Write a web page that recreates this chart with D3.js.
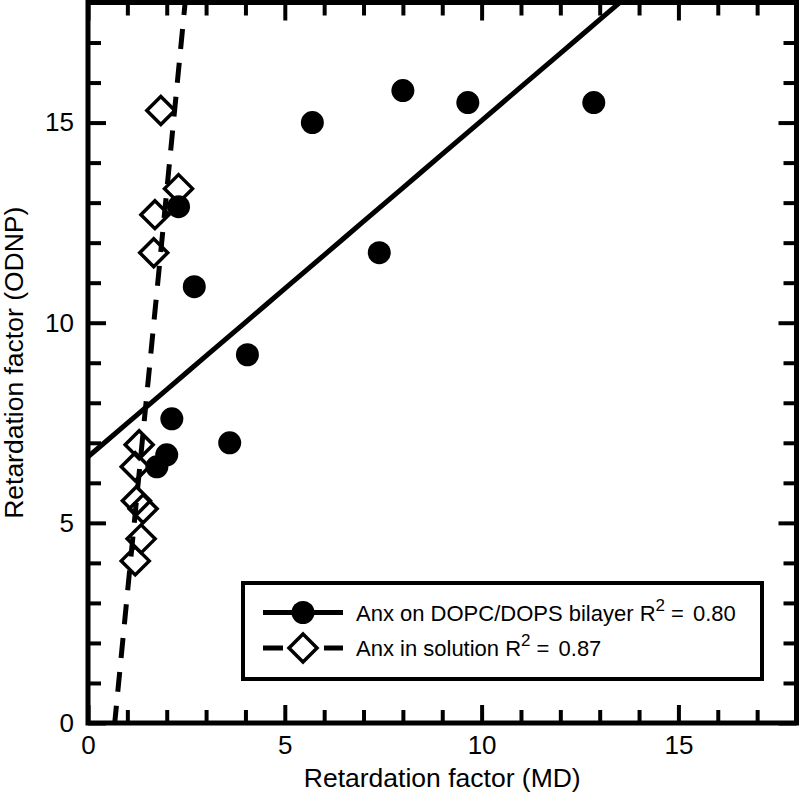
<!DOCTYPE html>
<html>
<head>
<meta charset="utf-8">
<script src="https://cdn.jsdelivr.net/npm/d3@7"></script>
<style>
  html, body { margin: 0; padding: 0; background: #fff; }
  svg { display: block; font-family: "Liberation Sans", Arial, Helvetica, sans-serif; }
</style>
</head>
<body>
<svg id="chart" width="800" height="809"></svg>
<script>
// ---- data ----
const bilayerX = [1.75, 2.0, 2.13, 3.6, 4.05, 2.7, 2.3, 5.7, 7.4, 8.0, 9.65, 12.85];
const bilayerY = [6.4, 6.7, 7.6, 7.0, 9.2, 10.9, 12.9, 15.0, 11.75, 15.8, 15.5, 15.5];
const solutionX = [1.2, 1.35, 1.4, 1.23, 1.2, 1.3, 1.67, 1.7, 2.3, 1.85];
const solutionY = [4.05, 4.6, 5.35, 5.55, 6.4, 6.95, 11.75, 12.7, 13.35, 15.3];
const bilayerFit = [6.65, 0.84];    // intercept, slope
const solutionFit = [-6.83, 10.06]; // intercept, slope
const xTicks = [0, 5, 10, 15];
const yTicks = [0, 5, 10, 15];
const legendLabels = ["Anx on DOPC/DOPS bilayer R", "Anx in solution R"];
const legendR2 = ["0.80", "0.87"];
const xTitle = "Retardation factor (MD)";
const yTitle = "Retardation factor (ODNP)";

// ---- layout ----
const svg = d3.select("#chart");
const L = 88, R = 796.5, T = 2.5, B = 723;
const x = d3.scaleLinear().domain([0, 18]).range([L, R]);
const y = d3.scaleLinear().domain([0, 18]).range([B, T]);

svg.append("defs").append("clipPath").attr("id", "plotclip")
  .append("rect").attr("x", L).attr("y", T).attr("width", R - L).attr("height", B - T);

const plot = svg.append("g").attr("clip-path", "url(#plotclip)");

// fit lines
const fitLine = (fit) => d3.line().x(d => x(d)).y(d => y(fit[0] + fit[1] * d));
const xs = d3.range(0, 18.01, 0.5);
plot.append("path").datum(xs).attr("d", fitLine(solutionFit))
  .attr("fill", "none").attr("stroke", "#000").attr("stroke-width", 5)
  .attr("stroke-dasharray", "20,14");
plot.append("path").datum(xs).attr("d", fitLine(bilayerFit))
  .attr("fill", "none").attr("stroke", "#000").attr("stroke-width", 5);

// diamonds
const diamond = (s) => `M0,${-s}L${s},0L0,${s}L${-s},0Z`;
plot.selectAll(".dia").data(solutionX.map((v, i) => [v, solutionY[i]]))
  .enter().append("path").attr("class", "dia")
  .attr("d", diamond(14))
  .attr("transform", d => `translate(${x(d[0])},${y(d[1])})`)
  .attr("fill", "none").attr("stroke", "#000").attr("stroke-width", 3.5)
  .attr("stroke-linejoin", "miter");

// circles
plot.selectAll(".dot").data(bilayerX.map((v, i) => [v, bilayerY[i]]))
  .enter().append("circle").attr("class", "dot")
  .attr("cx", d => x(d[0])).attr("cy", d => y(d[1])).attr("r", 11.5)
  .attr("fill", "#000");

// axes with inward ticks on all four sides
function styleAxis(g) {
  g.select(".domain").remove();
  g.selectAll(".tick line").attr("stroke", "#000").attr("stroke-width", 4);
  g.selectAll(".tick text").attr("font-size", 26).attr("fill", "#000")
    .attr("font-family", "Liberation Sans, Arial, sans-serif");
}
const minor = d3.range(0, 19, 1);
// bottom minor
svg.append("g").attr("transform", `translate(0,${B})`)
  .call(d3.axisBottom(x).tickValues(minor.filter(v => v % 5 !== 0)).tickSize(-13).tickFormat(""))
  .call(styleAxis);
// bottom major
svg.append("g").attr("transform", `translate(0,${B})`)
  .call(d3.axisBottom(x).tickValues(xTicks).tickSize(-18).tickFormat(d3.format("d")))
  .call(styleAxis)
  .call(g => g.selectAll(".tick text").attr("y", 13).attr("dy", "0.71em"));
// top
svg.append("g").attr("transform", `translate(0,${T})`)
  .call(d3.axisTop(x).tickValues(minor.filter(v => v % 5 !== 0)).tickSize(-13).tickFormat(""))
  .call(styleAxis);
svg.append("g").attr("transform", `translate(0,${T})`)
  .call(d3.axisTop(x).tickValues(xTicks).tickSize(-18).tickFormat(""))
  .call(styleAxis);
// left
svg.append("g").attr("transform", `translate(${L},0)`)
  .call(d3.axisLeft(y).tickValues(minor.filter(v => v % 5 !== 0)).tickSize(-13).tickFormat(""))
  .call(styleAxis);
svg.append("g").attr("transform", `translate(${L},0)`)
  .call(d3.axisLeft(y).tickValues(yTicks).tickSize(-18).tickFormat(d3.format("d")))
  .call(styleAxis)
  .call(g => g.selectAll(".tick text").attr("x", -14));
// right
svg.append("g").attr("transform", `translate(${R},0)`)
  .call(d3.axisRight(y).tickValues(minor.filter(v => v % 5 !== 0)).tickSize(-13).tickFormat(""))
  .call(styleAxis);
svg.append("g").attr("transform", `translate(${R},0)`)
  .call(d3.axisRight(y).tickValues(yTicks).tickSize(-18).tickFormat(""))
  .call(styleAxis);

// frame
svg.append("rect").attr("x", L).attr("y", T).attr("width", R - L).attr("height", B - T)
  .attr("fill", "none").attr("stroke", "#000").attr("stroke-width", 5);

// axis titles
svg.append("text").attr("x", (L + R) / 2).attr("y", 787)
  .attr("text-anchor", "middle").attr("font-size", 26.5).text(xTitle);
svg.append("text").attr("transform", `translate(23,${(T + B) / 2}) rotate(-90)`)
  .attr("text-anchor", "middle").attr("font-size", 26.5).text(yTitle);

// legend
const lg = svg.append("g");
lg.append("rect").attr("x", 243).attr("y", 583).attr("width", 519).attr("height", 96)
  .attr("fill", "#fff").attr("stroke", "#000").attr("stroke-width", 4);
const rows = [612.5, 648];
// row 1
lg.append("line").attr("x1", 263).attr("x2", 343).attr("y1", rows[0]).attr("y2", rows[0])
  .attr("stroke", "#000").attr("stroke-width", 5);
lg.append("circle").attr("cx", 303).attr("cy", rows[0]).attr("r", 11.5).attr("fill", "#000");
// row 2
lg.append("line").attr("x1", 263).attr("x2", 283).attr("y1", rows[1]).attr("y2", rows[1])
  .attr("stroke", "#000").attr("stroke-width", 5);
lg.append("line").attr("x1", 324).attr("x2", 343).attr("y1", rows[1]).attr("y2", rows[1])
  .attr("stroke", "#000").attr("stroke-width", 5);
lg.append("path").attr("d", diamond(14)).attr("transform", `translate(303,${rows[1]})`)
  .attr("fill", "#fff").attr("stroke", "#000").attr("stroke-width", 3.5);
legendLabels.forEach((lab, i) => {
  const t = lg.append("text").attr("x", 356).attr("y", rows[i] + 8).attr("font-size", 22);
  t.append("tspan").text(lab);
  t.append("tspan").attr("dy", -10).attr("font-size", 17).text("2");
  t.append("tspan").attr("dy", 10).attr("dx", 6).text("= ");
  t.append("tspan").attr("dx", 3).text(legendR2[i]);
});
</script>
</body>
</html>
